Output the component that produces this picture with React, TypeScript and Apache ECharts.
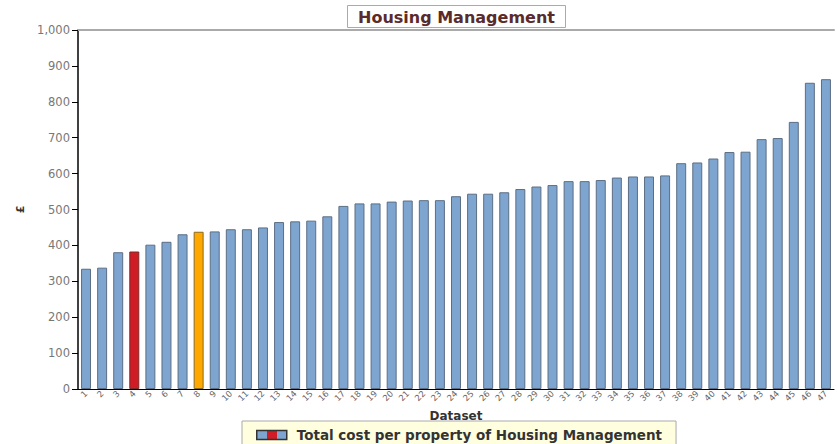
import React, { useEffect, useRef } from "react";
import * as echarts from "echarts";

const categories = Array.from({ length: 47 }, (_, i) => String(i + 1));
const values = [
  335, 338, 381, 383, 402, 410, 431, 438, 439, 445, 445, 450, 465, 467, 469, 481,
  510, 517, 517, 522, 525, 526, 526, 537, 544, 544, 548, 557, 564, 568, 579, 579,
  582, 589, 592, 592, 595, 629, 631, 642, 660, 661, 696, 699, 744, 853, 863,
];
const redIndex = 3;
const orangeIndex = 7;
const yTicks = [0, 100, 200, 300, 400, 500, 600, 700, 800, 900, 1000];
const seriesName = "Total cost per property of Housing Management";

const BLUE = "#7ea5cf";
const RED = "#d01c24";
const ORANGE = "#ffa800";

export default function App() {
  const ref = useRef<HTMLDivElement>(null);
  useEffect(() => {
    if (!ref.current) return;
    const chart = echarts.init(ref.current, null, { renderer: "svg" });
    const data = values.map((v, i) => {
      if (i === redIndex) return { value: v, itemStyle: { color: RED, borderColor: "#7a2a2a" } };
      if (i === orangeIndex) return { value: v, itemStyle: { color: ORANGE, borderColor: "#8a6a20" } };
      return v;
    });
    chart.setOption({
      animation: false,
      textStyle: { fontFamily: "DejaVu Sans" },
      title: {
        text: "Housing Management",
        left: 347,
        top: 5,
        padding: [3, 11, 2, 11],
        borderColor: "#aaaaaa",
        borderWidth: 1,
        backgroundColor: "#ffffff",
        textStyle: { fontSize: 16, lineHeight: 18, fontWeight: "bold", color: "#5b2b2b", fontFamily: "DejaVu Sans" },
      },
      legend: {
        left: 242,
        top: 421,
        padding: [7, 14, 10, 14],
        backgroundColor: "#ffffe0",
        borderColor: "#aaaaaa",
        borderWidth: 1,
        itemWidth: 30,
        itemHeight: 9,
        itemGap: 10,
        icon: "rect",
        itemStyle: {
          color: {
            type: "linear", x: 0, y: 0, x2: 1, y2: 0,
            colorStops: [
              { offset: 0, color: BLUE }, { offset: 0.33, color: BLUE },
              { offset: 0.33, color: RED }, { offset: 0.67, color: RED },
              { offset: 0.67, color: BLUE }, { offset: 1, color: BLUE },
            ],
          },
          borderColor: "#333333",
          borderWidth: 1.5,
        },
        textStyle: {
          fontSize: 13.5,
          fontWeight: "bold",
          color: "#333333",
          fontFamily: "DejaVu Sans",
          padding: [0, 0, 0, 5],
        },
        data: [seriesName],
      },
      grid: { left: 78, right: 3, top: 30, bottom: 55 },
      xAxis: [
        {
          type: "category",
          data: categories,
          name: "Dataset",
          nameLocation: "middle",
          nameGap: 16,
          nameTextStyle: { fontSize: 12, fontWeight: "bold", color: "#333333" },
          axisLine: { lineStyle: { color: "#000000", width: 1 } },
          axisTick: { alignWithLabel: true, length: 4, lineStyle: { color: "#000000" } },
          axisLabel: { interval: 0, rotate: 45, fontSize: 8.5, color: "#666666", margin: 3 },
        },
        {
          type: "category",
          position: "top",
          data: categories,
          axisLine: { lineStyle: { color: "#aaaaaa", width: 2 } },
          axisTick: { show: false },
          axisLabel: { show: false },
        },
      ],
      yAxis: {
        type: "value",
        min: yTicks[0],
        max: yTicks[yTicks.length - 1],
        interval: 100,
        name: "£",
        nameLocation: "middle",
        nameRotate: 90,
        nameGap: 49,
        nameTextStyle: { fontSize: 11, fontWeight: "bold", color: "#333333" },
        splitLine: { show: false },
        axisLine: { show: true, lineStyle: { color: "#000000", width: 1.5 } },
        axisTick: { show: true, length: 6, lineStyle: { color: "#000000" } },
        axisLabel: {
          fontSize: 11.5,
          color: "#777777",
          margin: 8,
          formatter: (v: number) => v.toLocaleString("en-US"),
        },
      },
      series: [
        {
          name: seriesName,
          type: "bar",
          data,
          barWidth: "62%",
          itemStyle: { color: BLUE, borderColor: "#5b6e84", borderWidth: 1 },
        },
      ],
    });
    return () => chart.dispose();
  }, []);
  return (
    <div
      ref={ref}
      style={{ position: "fixed", left: 0, top: 0, width: 837, height: 444, background: "#ffffff" }}
    />
  );
}
